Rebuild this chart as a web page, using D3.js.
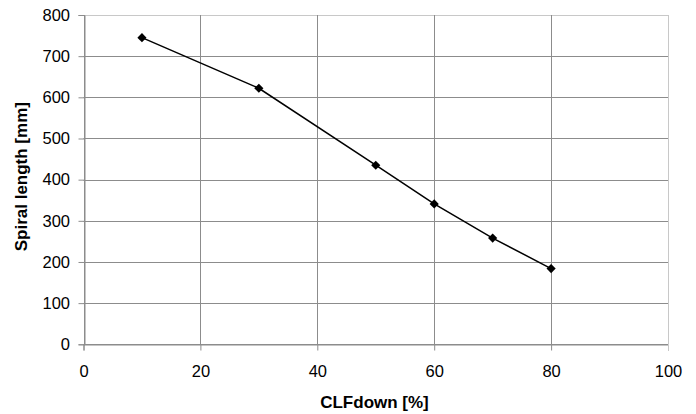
<!DOCTYPE html>
<html><head><meta charset="utf-8">
<script src="https://cdn.jsdelivr.net/npm/d3@7"></script>
<style>body{margin:0;background:#fff}svg{display:block}text{font-family:"Liberation Sans",Arial,sans-serif;fill:#000}</style>
</head><body><svg id="c" width="696" height="414"></svg>
<script>
const xValues = [10, 30, 50, 60, 70, 80];
const yValues = [745, 622, 435, 341, 258, 184];
const xTicks = [0, 20, 40, 60, 80, 100];
const yTicks = [0, 100, 200, 300, 400, 500, 600, 700, 800];
const xTitle = "CLFdown [%]";
const yTitle = "Spiral length [mm]";

const svg = d3.select("#c");
const L = 83.5, R = 668, T = 15, B = 344.3;
const x = d3.scaleLinear().domain([0, 100]).range([L, R]);
const y = d3.scaleLinear().domain([0, 800]).range([B, T]);

// gridlines
svg.append("g").selectAll("line").data(yTicks).join("line")
  .attr("x1", L).attr("x2", R).attr("y1", d => Math.round(y(d)) + 0.5).attr("y2", d => Math.round(y(d)) + 0.5)
  .attr("stroke", d => d === 800 ? "#c8c8c8" : "#8c8c8c").attr("stroke-width", 1);
svg.append("g").selectAll("line").data(xTicks).join("line")
  .attr("y1", T).attr("y2", B).attr("x1", d => Math.round(x(d)) + 0.5).attr("x2", d => Math.round(x(d)) + 0.5)
  .attr("stroke", d => d === 100 ? "#c8c8c8" : "#8c8c8c").attr("stroke-width", 1);

// axes
const xAxis = svg.append("g").attr("transform", `translate(0,${Math.round(B) + 0.5})`)
  .call(d3.axisBottom(x).tickValues(xTicks).tickSize(6).tickPadding(15));
const yAxis = svg.append("g").attr("transform", `translate(${Math.round(L) + 0.5},0)`)
  .call(d3.axisLeft(y).tickValues(yTicks).tickSize(6).tickPadding(8.5));
[xAxis, yAxis].forEach(a => {
  a.select(".domain").attr("stroke", "#8c8c8c");
  a.selectAll(".tick line").attr("stroke", "#8c8c8c");
  a.selectAll(".tick text").attr("font-size", 16.5).attr("font-family", "Liberation Sans, Arial, sans-serif").attr("fill", "#000");
});
xAxis.selectAll(".tick line").attr("stroke", (d) => d === 100 ? "#c8c8c8" : "#8c8c8c");

// line
const pts = xValues.map((v, i) => [v, yValues[i]]);
svg.append("path").datum(pts)
  .attr("d", d3.line().x(d => x(d[0])).y(d => y(d[1])))
  .attr("fill", "none").attr("stroke", "#000").attr("stroke-width", 1.5);
svg.append("g").selectAll("path").data(pts).join("path")
  .attr("transform", d => `translate(${x(d[0])},${y(d[1])}) rotate(45)`)
  .attr("d", d3.symbol().type(d3.symbolSquare).size(42))
  .attr("fill", "#000");

// titles
svg.append("text").attr("x", 374.5).attr("y", 408).attr("text-anchor", "middle")
  .attr("font-size", 17).attr("font-weight", "bold").text(xTitle);
svg.append("text").attr("transform", `translate(27,176.7) rotate(-90)`).attr("text-anchor", "middle")
  .attr("font-size", 17).attr("font-weight", "bold").text(yTitle);
</script></body></html>
